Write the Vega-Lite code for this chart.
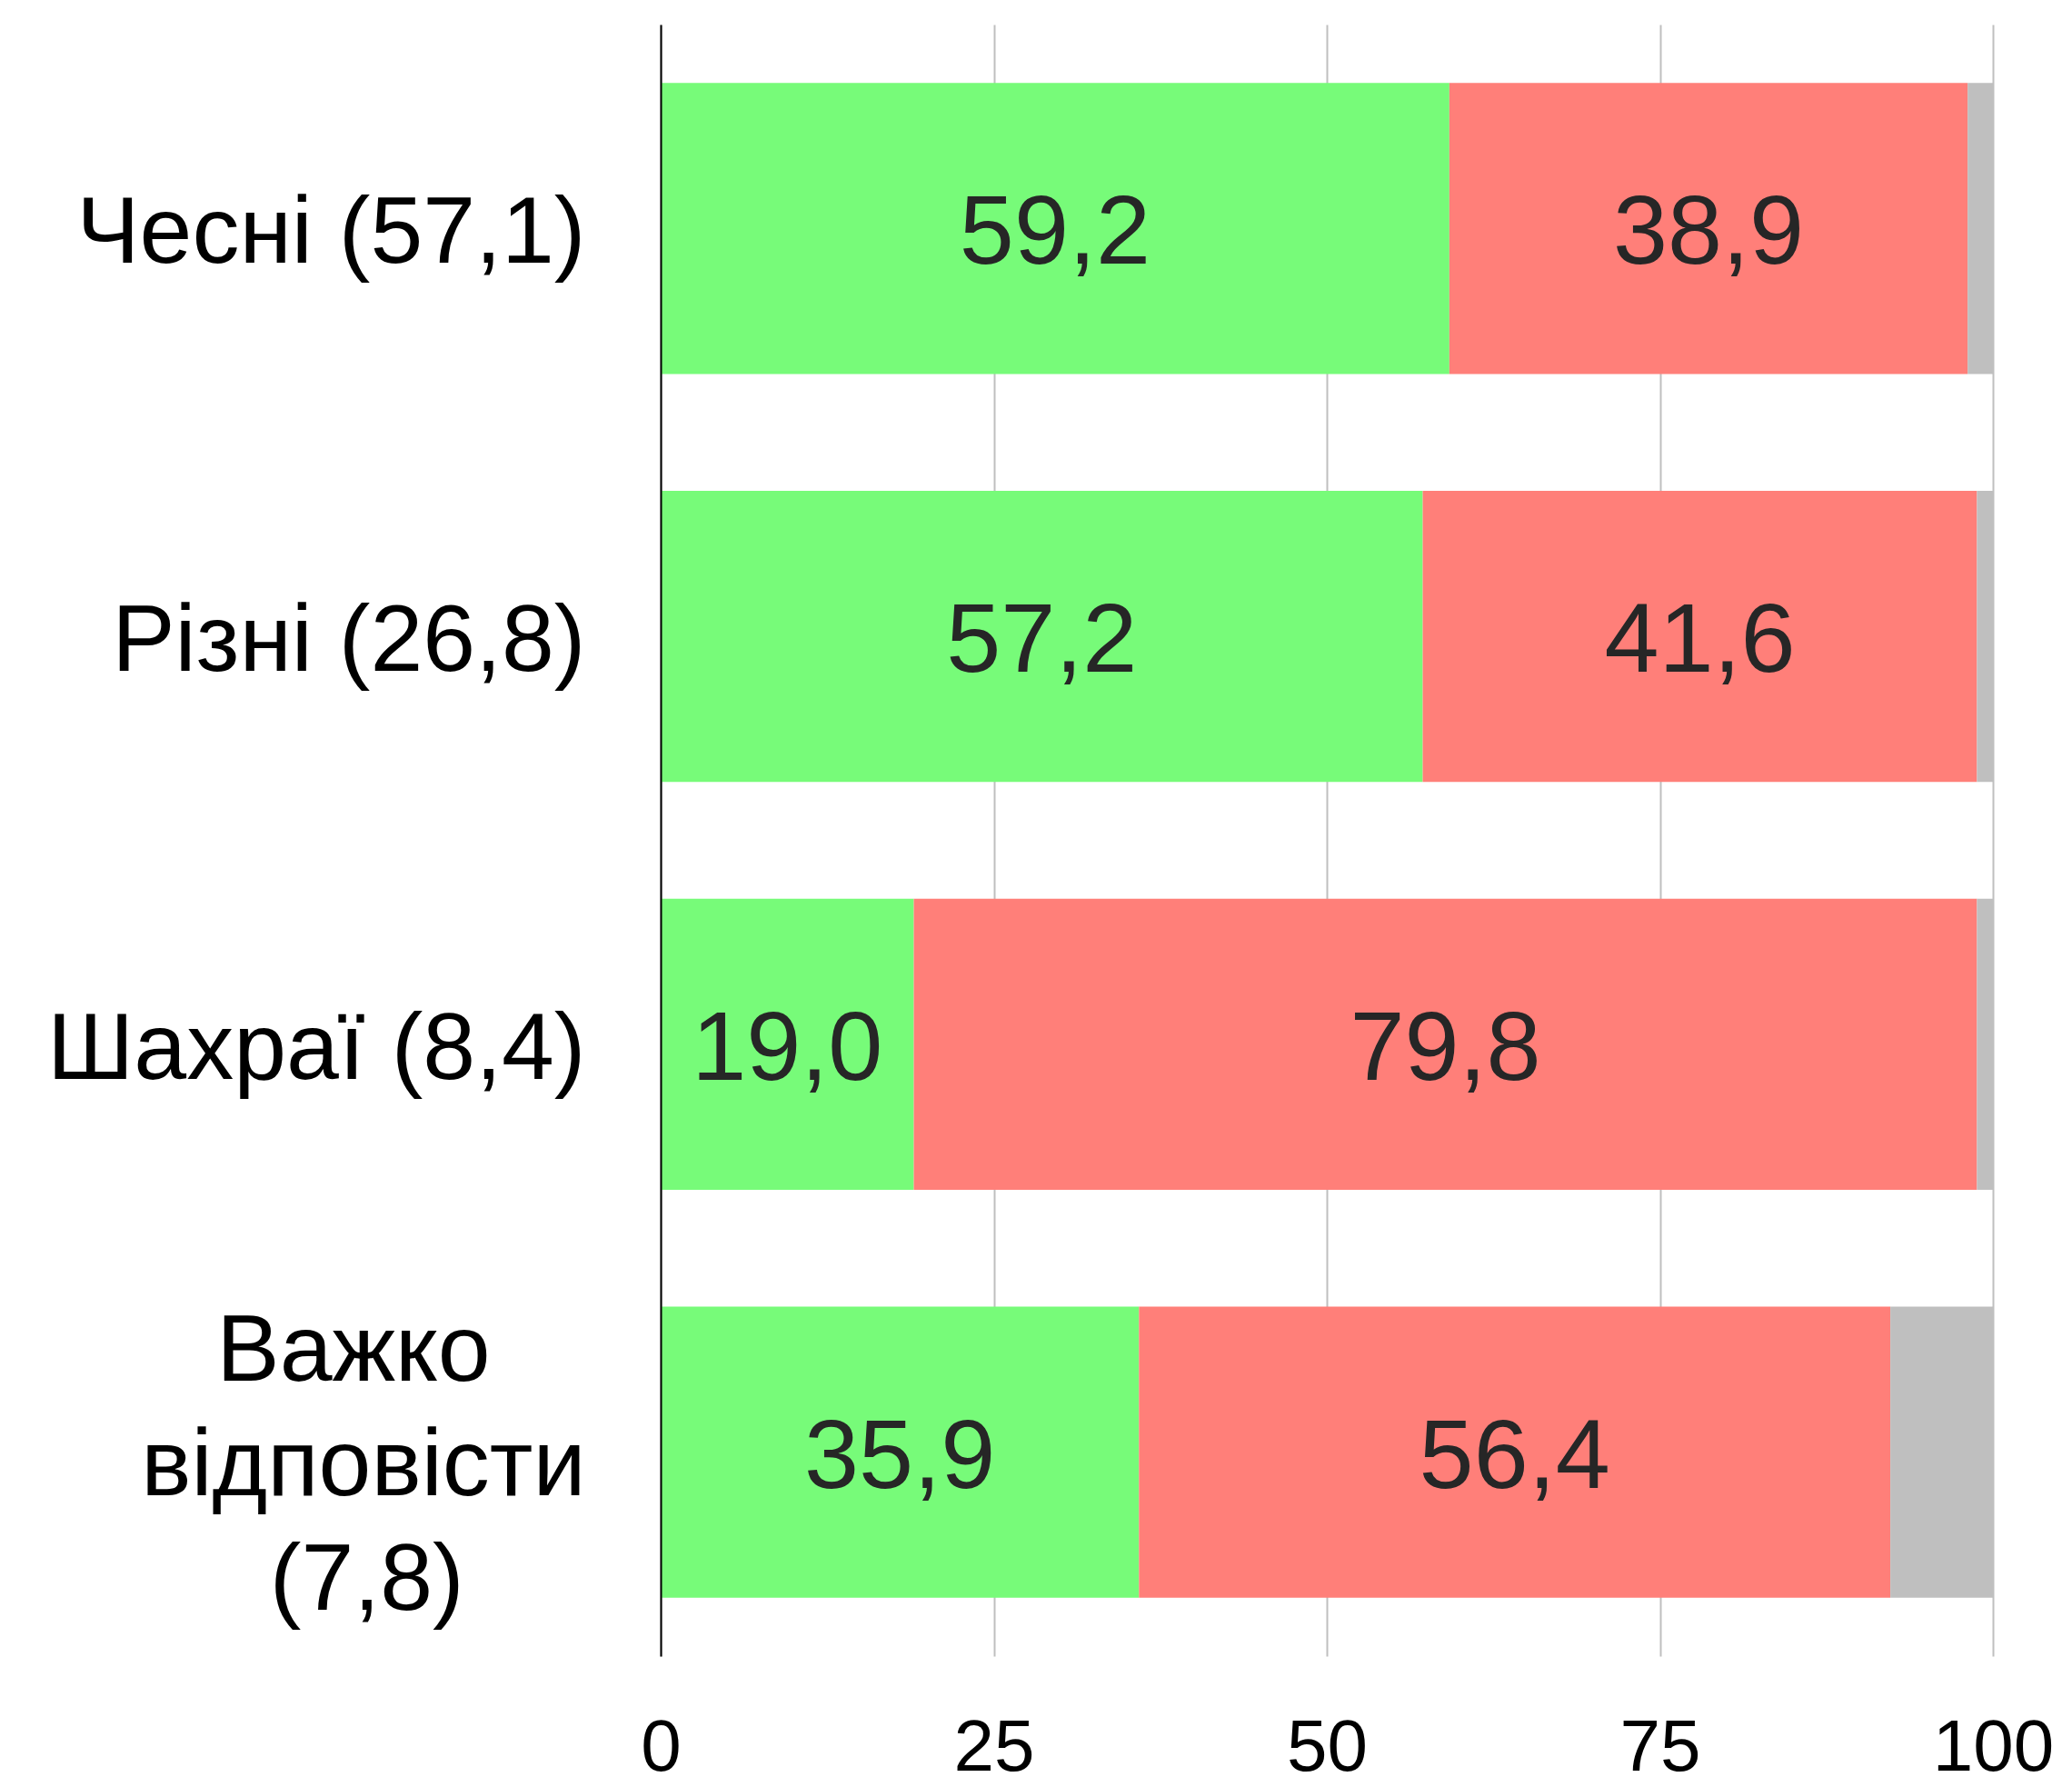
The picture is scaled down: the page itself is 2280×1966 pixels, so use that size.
{
  "$schema": "https://vega.github.io/schema/vega-lite/v6.json",
  "autosize": {"type": "none"},
  "padding": {"left": 727, "top": 27, "right": 87, "bottom": 144},
  "width": 1466,
  "height": 1795,
  "config": {
    "locale": {"number": {"decimal": ",", "thousands": " ", "grouping": [3], "currency": ["", ""]}},
    "view": {"stroke": null},
    "font": "Liberation Sans"
  },
  "data": {
    "values": [
      {"group": "Чесні (57,1)", "answer": "yes", "value": 59.2, "order": 1},
      {"group": "Чесні (57,1)", "answer": "no", "value": 38.9, "order": 2},
      {"group": "Чесні (57,1)", "answer": "dk", "value": 1.9, "order": 3},
      {"group": "Різні (26,8)", "answer": "yes", "value": 57.2, "order": 1},
      {"group": "Різні (26,8)", "answer": "no", "value": 41.6, "order": 2},
      {"group": "Різні (26,8)", "answer": "dk", "value": 1.2, "order": 3},
      {"group": "Шахраї (8,4)", "answer": "yes", "value": 19.0, "order": 1},
      {"group": "Шахраї (8,4)", "answer": "no", "value": 79.8, "order": 2},
      {"group": "Шахраї (8,4)", "answer": "dk", "value": 1.2, "order": 3},
      {"group": "Важко відповісти (7,8)", "answer": "yes", "value": 35.9, "order": 1},
      {"group": "Важко відповісти (7,8)", "answer": "no", "value": 56.4, "order": 2},
      {"group": "Важко відповісти (7,8)", "answer": "dk", "value": 7.7, "order": 3}
    ]
  },
  "transform": [
    {"stack": "value", "groupby": ["group"], "sort": [{"field": "order"}], "as": ["v0", "v1"]},
    {"calculate": "(datum.v0 + datum.v1) / 2", "as": "mid"}
  ],
  "encoding": {
    "y": {
      "field": "group",
      "type": "nominal",
      "sort": ["Чесні (57,1)", "Різні (26,8)", "Шахраї (8,4)", "Важко відповісти (7,8)"],
      "scale": {"paddingInner": 0.286, "paddingOuter": 0.143},
      "axis": {
        "title": null,
        "domain": true,
        "domainColor": "#000000",
        "domainWidth": 2,
        "ticks": false,
        "grid": false,
        "labelFontSize": 104,
        "labelColor": "#000000",
        "labelPadding": 83,
        "labelLineHeight": 126,
        "labelLimit": 1000,
        "zindex": 2,
        "labelOffset": {"condition": {"test": "datum.value == 'Важко відповісти (7,8)'", "value": -110}, "value": 7},
        "labelExpr": "datum.value == 'Важко відповісти (7,8)' ? ['Важко\u00a0\u2800', 'відповісти', '(7,8)\u00a0\u00a0\u2800'] : datum.label"
      }
    }
  },
  "layer": [
    {
      "mark": {"type": "bar"},
      "encoding": {
        "x": {
          "field": "v0",
          "type": "quantitative",
          "scale": {"domain": [0, 100], "nice": false},
          "axis": {
            "title": null,
            "domain": false,
            "ticks": false,
            "grid": true,
            "gridColor": "#BFBFBF",
            "gridWidth": 2,
            "values": [0, 25, 50, 75, 100],
            "labelFontSize": 80,
            "labelColor": "#000000",
            "labelPadding": 62,
            "labelFlush": false
          }
        },
        "x2": {"field": "v1"},
        "color": {
          "field": "answer",
          "type": "nominal",
          "scale": {"domain": ["yes", "no", "dk"], "range": ["#77FB79", "#FF7F79", "#BFBFBF"]},
          "legend": null
        }
      }
    },
    {
      "transform": [{"filter": "datum.answer != 'dk'"}],
      "mark": {"type": "text", "fontSize": 108, "color": "#262626", "baseline": "middle", "align": "center", "dy": 7},
      "encoding": {
        "x": {"field": "mid", "type": "quantitative"},
        "text": {"field": "value", "type": "quantitative", "format": ".1f"}
      }
    }
  ]
}
